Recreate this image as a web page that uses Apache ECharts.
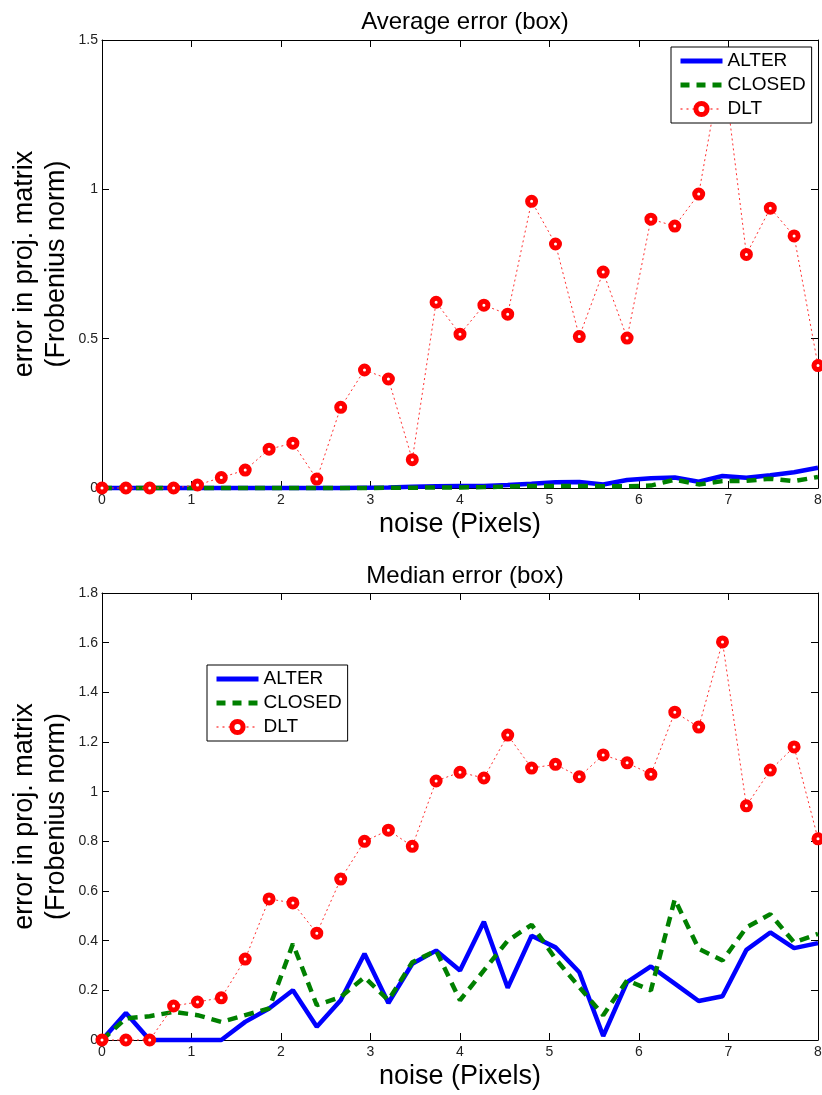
<!DOCTYPE html>
<html>
<head>
<meta charset="utf-8">
<script src="https://cdn.jsdelivr.net/npm/echarts@6/dist/echarts.min.js"></script>
<style>
  html, body { margin: 0; padding: 0; background: #fff; }
  #main { width: 822px; height: 1095px; }
</style>
</head>
<body>
<div id="main"></div>
<script>
// ---- data ----
const noise = [0, 0.267, 0.533, 0.8, 1.067, 1.333, 1.6, 1.867, 2.133, 2.4, 2.667, 2.933, 3.2, 3.467, 3.733, 4,
  4.267, 4.533, 4.8, 5.067, 5.333, 5.6, 5.867, 6.133, 6.4, 6.667, 6.933, 7.2, 7.467, 7.733, 8];

const avgALTER = [0, 0, 0, 0, 0, 0, 0, 0, 0, 0, 0, 0.001, 0.002, 0.004, 0.006, 0.007,
  0.007, 0.01, 0.014, 0.019, 0.02, 0.012, 0.027, 0.033, 0.035, 0.021, 0.04, 0.034, 0.043, 0.053, 0.068];
const avgCLOSED = [0, 0, 0, 0, 0, 0, 0, 0, 0, 0, 0, 0, 0.001, 0.001, 0.002, 0.002,
  0.003, 0.005, 0.007, 0.007, 0.007, 0.006, 0.006, 0.008, 0.028, 0.012, 0.023, 0.024, 0.031, 0.023, 0.037];
const avgDLT = [0, 0, 0, 0, 0.01, 0.035, 0.06, 0.13, 0.15, 0.03, 0.27, 0.395, 0.365, 0.095, 0.622, 0.515,
  0.612, 0.582, 0.96, 0.817, 0.507, 0.723, 0.502, 0.90, 0.877, 0.984, 1.43, 0.782, 0.937, 0.844, 0.41];

const medALTER = [0, 0.109, 0, 0, 0, 0, 0.073, 0.127, 0.2, 0.053, 0.16, 0.347, 0.149, 0.307, 0.36, 0.28,
  0.476, 0.21, 0.42, 0.373, 0.273, 0.016, 0.233, 0.296, 0.227, 0.157, 0.176, 0.363, 0.433, 0.37, 0.39];
const medCLOSED = [0, 0.087, 0.096, 0.113, 0.1, 0.073, 0.1, 0.127, 0.387, 0.14, 0.173, 0.253, 0.16, 0.313, 0.36, 0.16,
  0.28, 0.4, 0.464, 0.327, 0.213, 0.1, 0.24, 0.2, 0.567, 0.367, 0.32, 0.453, 0.507, 0.393, 0.427];
const medDLT = [0, 0, 0, 0.137, 0.153, 0.17, 0.326, 0.568, 0.552, 0.43, 0.648, 0.80, 0.845, 0.78, 1.043, 1.078,
  1.055, 1.228, 1.095, 1.11, 1.06, 1.148, 1.116, 1.07, 1.32, 1.26, 1.603, 0.943, 1.087, 1.18, 0.81];

const titles = ['Average error (box)', 'Median error (box)'];
const xName = 'noise (Pixels)';
const yName = 'error in proj. matrix\n(Frobenius norm)';
const seriesNames = ['ALTER', 'CLOSED', 'DLT'];
const xTicks = { min: 0, max: 8, interval: 1 };
const yTicksTop = { min: 0, max: 1.5, interval: 0.5 };
const yTicksBottom = { min: 0, max: 1.8, interval: 0.2 };

// ---- styling ----
const FONT = '"Liberation Sans", Arial, Helvetica, sans-serif';
const grids = [
  { left: 102, top: 40, width: 716, height: 448, outerBoundsMode: 'none', containLabel: false },
  { left: 102, top: 593, width: 716, height: 447, outerBoundsMode: 'none', containLabel: false }
];

function fmt(v) { return String(+v.toFixed(1)); }

function xAxisMain(gi) {
  return {
    type: 'value', gridIndex: gi, position: 'bottom',
    min: xTicks.min, max: xTicks.max, interval: xTicks.interval,
    name: xName, nameLocation: 'middle', nameGap: 23, nameMoveOverlap: false,
    nameTextStyle: { fontFamily: FONT, fontSize: 27, color: '#000' },
    axisLine: { show: true, onZero: false, lineStyle: { color: '#000', width: 1 } },
    axisTick: { show: true, inside: true, length: 7, lineStyle: { color: '#000' } },
    axisLabel: { show: true, margin: 5, fontFamily: FONT, fontSize: 14, color: '#222', formatter: fmt },
    splitLine: { show: false }
  };
}
function xAxisTop(gi) {
  return {
    type: 'value', gridIndex: gi, position: 'top',
    min: xTicks.min, max: xTicks.max, interval: xTicks.interval,
    axisLine: { show: true, onZero: false, lineStyle: { color: '#000', width: 1 } },
    axisTick: { show: true, inside: true, length: 7, lineStyle: { color: '#000' } },
    axisLabel: { show: false }, splitLine: { show: false }
  };
}
function yAxisMain(gi, t) {
  return {
    type: 'value', gridIndex: gi, position: 'left',
    min: t.min, max: t.max, interval: t.interval,
    name: yName, nameLocation: 'middle', nameGap: 29, nameRotate: 90, nameMoveOverlap: false,
    nameTextStyle: { fontFamily: FONT, fontSize: 27, color: '#000', lineHeight: 32 },
    axisLine: { show: true, onZero: false, lineStyle: { color: '#000', width: 1 } },
    axisTick: { show: true, inside: true, length: 7, lineStyle: { color: '#000' } },
    axisLabel: { show: true, margin: 4, fontFamily: FONT, fontSize: 14, color: '#222', formatter: fmt },
    splitLine: { show: false }
  };
}
function yAxisRight(gi, t) {
  return {
    type: 'value', gridIndex: gi, position: 'right',
    min: t.min, max: t.max, interval: t.interval,
    axisLine: { show: true, onZero: false, lineStyle: { color: '#000', width: 1 } },
    axisTick: { show: true, inside: true, length: 7, lineStyle: { color: '#000' } },
    axisLabel: { show: false }, splitLine: { show: false }
  };
}

function pairs(xs, ys) { return xs.map((x, i) => [x, ys[i]]); }

function makeSeries(xIdx, yIdx, alter, closed, dlt) {
  return [
    {
      name: seriesNames[0], type: 'line', xAxisIndex: xIdx, yAxisIndex: yIdx,
      data: pairs(noise, alter), symbol: 'circle', showSymbol: false, clip: false, z: 2,
      lineStyle: { color: '#0000ff', width: 4.5, type: 'solid' },
      itemStyle: { color: '#0000ff' }
    },
    {
      name: seriesNames[1], type: 'line', xAxisIndex: xIdx, yAxisIndex: yIdx,
      data: pairs(noise, closed), symbol: 'circle', showSymbol: false, clip: false, z: 2,
      lineStyle: { color: '#008000', width: 4.5, type: [10, 7] },
      itemStyle: { color: '#008000' }
    },
    {
      name: seriesNames[2], type: 'line', xAxisIndex: xIdx, yAxisIndex: yIdx,
      data: pairs(noise, dlt), symbol: 'circle', symbolSize: 8, clip: false, z: 2,
      lineStyle: { color: '#ff3030', width: 1, type: [2, 3] },
      itemStyle: { color: '#ffffff', borderColor: '#ff0000', borderWidth: 5 }
    }
  ];
}

function legendAt(left, top) {
  return {
    orient: 'vertical', left: left, top: top, z: 20,
    data: [
      { name: seriesNames[0], itemStyle: { opacity: 0 }, lineStyle: { width: 5, color: '#0000ff' } },
      { name: seriesNames[1], itemStyle: { opacity: 0 }, lineStyle: { width: 5, color: '#008000', type: [9, 7] } },
      { name: seriesNames[2], itemStyle: { color: '#ffffff', borderColor: '#ff0000', borderWidth: 5 },
        lineStyle: { width: 1.5, color: '#ff5050', type: [2, 4] } }
    ],
    backgroundColor: '#fff', borderColor: '#000', borderWidth: 1, borderRadius: 0,
    padding: [4, 6, 4, 7], itemGap: 4, itemWidth: 42, itemHeight: 14,
    textStyle: { fontFamily: FONT, fontSize: 19, color: '#000', lineHeight: 20 },
    selectedMode: false
  };
}

const option = {
  backgroundColor: '#fff',
  animation: false,
  title: [
    { text: titles[0], left: 460, top: 5, textAlign: 'center',
      textStyle: { fontFamily: FONT, fontSize: 24, fontWeight: 'normal', color: '#000' } },
    { text: titles[1], left: 460, top: 559, textAlign: 'center',
      textStyle: { fontFamily: FONT, fontSize: 24, fontWeight: 'normal', color: '#000' } }
  ],
  legend: [legendAt(671, 47), legendAt(207, 665)],
  grid: grids,
  xAxis: [xAxisMain(0), xAxisTop(0), xAxisMain(1), xAxisTop(1)],
  yAxis: [yAxisMain(0, yTicksTop), yAxisRight(0, yTicksTop), yAxisMain(1, yTicksBottom), yAxisRight(1, yTicksBottom)],
  series: [].concat(
    makeSeries(0, 0, avgALTER, avgCLOSED, avgDLT),
    makeSeries(2, 2, medALTER, medCLOSED, medDLT)
  )
};

const chart = echarts.init(document.getElementById('main'), null, { renderer: 'canvas' });
chart.setOption(option);
</script>
</body>
</html>
